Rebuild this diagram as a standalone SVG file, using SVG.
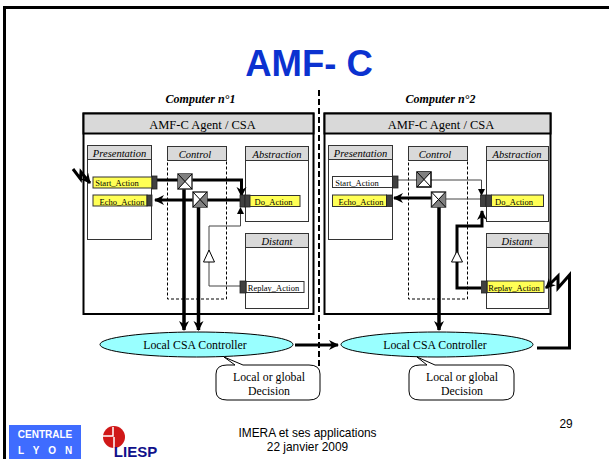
<svg xmlns="http://www.w3.org/2000/svg" width="609" height="459" viewBox="0 0 609 459">
<defs>
<marker id="ah" markerUnits="userSpaceOnUse" markerWidth="12" markerHeight="12" refX="9" refY="5" orient="auto"><path d="M0 0L10 5L0 10L3 5Z" fill="#000"/></marker>
<marker id="as" markerUnits="userSpaceOnUse" markerWidth="8" markerHeight="8" refX="6" refY="3.5" orient="auto"><path d="M0 0L7 3.5L0 7Z" fill="#000"/></marker>
</defs>
<style>
text{font-family:"Liberation Serif","Times New Roman",serif;fill:#000}
.ag{fill:#fff;stroke:#000;stroke-width:2}
.agh{fill:#d9d9d9;stroke:#000;stroke-width:2}
.box{fill:#fff;stroke:#333;stroke-width:1}
.head{fill:#d9d9d9;stroke:#333;stroke-width:1}
.hd{font-size:10.5px;font-style:italic;text-anchor:middle}
.ctl{fill:#fff;stroke:#000;stroke-width:1;stroke-dasharray:3 2}
.y{fill:#ffff55;stroke:#333;stroke-width:1}
.w{fill:#fff;stroke:#333;stroke-width:1}
.port{fill:#404040;stroke:#222;stroke-width:.8}
.act{font-size:8.5px;text-anchor:middle}
.thick{fill:none;stroke:#000;stroke-width:3}
.vt{fill:none;stroke:#000;stroke-width:3.500}
.thin{fill:none;stroke:#444;stroke-width:1}
.xb{fill:#fff;stroke:#333;stroke-width:1.500}
.xg{fill:#808080}
.xl{stroke:#000;stroke-width:1}
.ell{fill:#99ffff;stroke:#000;stroke-width:1}
.tl{font-size:11.800px;text-anchor:middle}
.cap{font-size:12px;font-weight:bold;font-style:italic;text-anchor:middle}
.call{fill:#fff;stroke:#000;stroke-width:1}
.ttl{font-size:12.500px;text-anchor:middle}
.ar{font-family:"Liberation Sans",Arial,sans-serif;font-size:11.900px}
.lg{font-family:"Liberation Sans",Arial,sans-serif;font-size:10px;font-weight:bold;fill:#fff}
</style>
<rect width="609" height="459" fill="#fff"/>
<path d="M4.500 459V7.500H609" fill="none" stroke="#000" stroke-width="3"/>
<text x="309" y="76" text-anchor="middle" style="font-family:'Liberation Sans',Arial,sans-serif;font-size:36.500px;font-weight:bold;fill:#0b32d0">AMF- C</text>
<text class="cap" x="200.500" y="103">Computer n°1</text>
<text class="cap" x="440.500" y="103">Computer n°2</text>
<path d="M319 90V368" stroke="#000" stroke-width="2" stroke-dasharray="6 3" fill="none"/>

<g id="agent1">
<rect class="ag" x="83.500" y="113.500" width="230" height="200.500"/>
<rect class="agh" x="83.500" y="113.500" width="230" height="20"/>
<text class="ttl" x="202.500" y="129">AMF-C Agent / CSA</text>
</g>
<g id="agent2">
<rect class="ag" x="324.500" y="113.500" width="226" height="200.500"/>
<rect class="agh" x="324.500" y="113.500" width="226" height="20"/>
<text class="ttl" x="441" y="129">AMF-C Agent / CSA</text>
</g>

<g id="presentation1">
<rect class="box" x="87.500" y="145.500" width="64" height="94"/>
<rect class="head" x="87.500" y="145.500" width="64" height="14"/>
<text class="hd" x="119.500" y="157">Presentation</text>
</g>
<g id="control1">
<rect class="ctl" x="167.500" y="160.500" width="59" height="138.500"/>
<rect class="head" x="167.500" y="146.500" width="59" height="14"/>
<text class="hd" x="195" y="158">Control</text>
</g>
<g id="abstraction1">
<rect class="box" x="245.500" y="146.500" width="63" height="75"/>
<rect class="head" x="245.500" y="146.500" width="63" height="14"/>
<text class="hd" x="277" y="158">Abstraction</text>
</g>
<g id="distant1">
<rect class="box" x="245.500" y="233.500" width="63" height="75"/>
<rect class="head" x="245.500" y="233.500" width="63" height="14"/>
<text class="hd" x="277" y="245">Distant</text>
</g>

<g id="presentation2">
<rect class="box" x="328.500" y="145.500" width="64" height="94"/>
<rect class="head" x="328.500" y="145.500" width="64" height="14"/>
<text class="hd" x="360.500" y="157">Presentation</text>
</g>
<g id="control2">
<rect class="ctl" x="408.500" y="160.500" width="59" height="138.500"/>
<rect class="head" x="408.500" y="146.500" width="59" height="14"/>
<text class="hd" x="435" y="158">Control</text>
</g>
<g id="abstraction2">
<rect class="box" x="486.500" y="146.500" width="62" height="75"/>
<rect class="head" x="486.500" y="146.500" width="62" height="14"/>
<text class="hd" x="517" y="158">Abstraction</text>
</g>
<g id="distant2">
<rect class="box" x="486.500" y="233.500" width="62" height="75"/>
<rect class="head" x="486.500" y="233.500" width="62" height="14"/>
<text class="hd" x="517" y="245">Distant</text>
</g>

<g id="connectors">
<path class="thick" d="M157 180H241.500V196" marker-end="url(#ah)"/>
<path class="thick" d="M241 200H155" marker-end="url(#ah)"/>
<path class="vt" d="M184 188V330" marker-end="url(#ah)"/>
<path class="vt" d="M198.500 206V330" marker-end="url(#ah)"/>
<path class="thin" d="M241 286H209V226H240.500V208" marker-end="url(#as)"/>
<path d="M209 250L214.500 262H203.500Z" fill="#fff" stroke="#000"/>
<path class="thick" d="M73 169L80.500 179L81 172L90 183" marker-end="url(#ah)"/>

<path class="thin" d="M398 180H481.500V195" marker-end="url(#as)"/>
<path class="thin" d="M445 199H481"/>
<path class="thick" d="M431 198H394" marker-end="url(#ah)"/>
<path class="vt" d="M439 206V330" marker-end="url(#ah)"/>
<path class="thick" d="M481 288H457V226H482V211" marker-end="url(#ah)"/>
<path d="M457 251L462.500 262H451.500Z" fill="#fff" stroke="#000"/>
<path class="thick" d="M295 345H338" marker-end="url(#ah)"/>
<path class="thick" d="M537 348H569.500V275L558 288L558 276L546 288" marker-end="url(#ah)"/>
</g>

<g id="start1"><rect class="y" x="93" y="177" width="59" height="11"/><rect class="port" x="152" y="176" width="5" height="13"/><text class="act" x="117" y="186">Start_Action</text></g>
<g id="echo1"><rect class="y" x="93" y="195" width="54" height="11"/><rect class="port" x="147" y="195" width="5" height="11"/><text class="act" x="122" y="205">Echo_Action</text></g>
<g id="do1"><rect class="port" x="240" y="195" width="5" height="12"/><rect class="port" x="245" y="195" width="5" height="12"/><rect class="y" x="250" y="195.500" width="50" height="11"/><text class="act" x="273.500" y="205">Do_Action</text></g>
<g id="replay1"><rect class="w" x="246" y="281.500" width="58" height="11"/><rect class="port" x="240" y="281" width="6" height="12"/><text class="act" x="273.500" y="291">Replay_Action</text></g>

<g id="start2"><rect class="w" x="332.500" y="176.500" width="60" height="11"/><rect class="port" x="392.500" y="176" width="5.500" height="12"/><text class="act" x="357" y="186">Start_Action</text></g>
<g id="echo2"><rect class="y" x="332.500" y="195" width="54" height="11.500"/><rect class="port" x="386.500" y="195" width="6" height="11.500"/><text class="act" x="361" y="205">Echo_Action</text></g>
<g id="do2"><rect class="port" x="480.500" y="195" width="5.500" height="11.500"/><rect class="port" x="486" y="195" width="5.500" height="11.500"/><rect class="y" x="491.500" y="195" width="52" height="11.500"/><text class="act" x="514" y="205">Do_Action</text></g>
<g id="replay2"><rect class="y" x="487" y="281" width="57" height="11.500"/><rect class="port" x="481.500" y="281" width="5.500" height="12"/><text class="act" x="514" y="291">Replay_Action</text></g>

<g id="cross1a"><rect class="xb" x="178" y="174" width="14" height="15"/><path class="xg" d="M178 174L185 181.500L178 189ZM178 174H192L185 181.500Z"/><path class="xl" d="M178 174L192 189M192 174L178 189" fill="none"/></g>
<g id="cross1b"><rect class="xb" x="193" y="192" width="14" height="15"/><path class="xg" d="M207 192L200 199.500L207 207ZM193 207H207L200 199.500Z"/><path class="xl" d="M193 192L207 207M207 192L193 207" fill="none"/></g>
<g id="cross2a"><rect class="xb" x="417" y="172" width="14" height="15" style="stroke:#000"/><path class="xg" d="M417 172L424 179.500L417 187ZM417 172H431L424 179.500Z"/><path class="xl" d="M417 172L431 187M431 172L417 187" fill="none"/></g>
<g id="cross2b"><rect class="xb" x="431.500" y="192" width="14" height="15"/><path class="xg" d="M445.500 192L438.500 199.500L445.500 207ZM431.500 207H445.500L438.500 199.500Z"/><path class="xl" d="M431.500 192L445.500 207M445.500 192L431.500 207" fill="none"/></g>

<g id="csa1"><ellipse class="ell" cx="196.500" cy="344.500" rx="96.500" ry="12.500"/><text class="tl" x="195" y="348.500">Local CSA Controller</text></g>
<g id="csa2"><ellipse class="ell" cx="437" cy="344.500" rx="96" ry="12.500"/><text class="tl" x="435" y="348.500">Local CSA Controller</text></g>

<g id="decision1"><path class="call" d="M224 357L243 365H309Q320 365 320 374V391Q320 400 309 400H227Q216 400 216 391V374Q216 365 227 365H235Z"/><text class="tl" x="269" y="381">Local or global</text><text class="tl" x="269" y="395">Decision</text></g>
<g id="decision2"><path class="call" d="M417 357L435 365H503Q514 365 514 374V391Q514 400 503 400H420Q409 400 409 391V374Q409 365 420 365H427Z"/><text class="tl" x="462" y="381">Local or global</text><text class="tl" x="462" y="395">Decision</text></g>

<g id="footer">
<rect x="9" y="425" width="72" height="34" fill="#3f6cff"/>
<text class="lg" x="45" y="438" text-anchor="middle">CENTRALE</text>
<text class="lg" x="18" y="454" letter-spacing="3.100">L Y O N</text>
<circle cx="114" cy="437" r="11" fill="#d01818"/>
<path d="M103 436H113V427M114 437V448" stroke="#fff" stroke-width="1.500" fill="none"/>
<text x="135.500" y="457" text-anchor="middle" style="font-family:'Liberation Sans',Arial,sans-serif;font-size:15px;font-weight:bold;fill:#10108a">LIESP</text>
<text class="ar" x="307.500" y="437" text-anchor="middle">IMERA et ses applications</text>
<text class="ar" x="307.500" y="451" text-anchor="middle">22 janvier 2009</text>
<text class="ar" x="566" y="428" text-anchor="middle">29</text>
</g>
</svg>
